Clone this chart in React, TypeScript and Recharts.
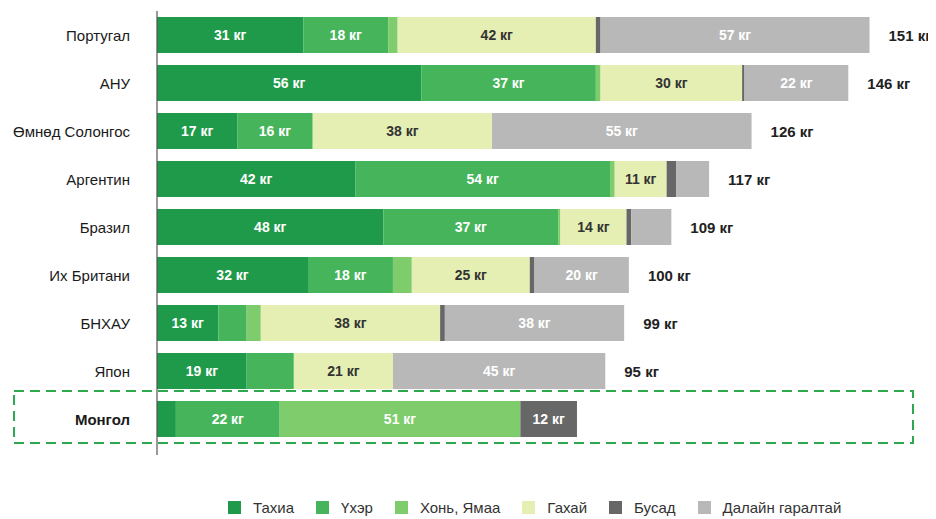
import React from 'react';
import { BarChart, Bar, XAxis, YAxis, LabelList } from 'recharts';

const countries = ['Португал', 'АНУ', 'Өмнөд Солонгос', 'Аргентин', 'Бразил', 'Их Британи', 'БНХАУ', 'Япон', 'Монгол'];
const chicken = [31, 56, 17, 42, 48, 32, 13, 19, 4];
const beef = [18, 37, 16, 54, 37, 18, 6, 10, 22];
const mutton = [2, 1, 0, 1, 0.5, 4, 3, 0, 51];
const pork = [42, 30, 38, 11, 14, 25, 38, 21, 0];
const other = [1, 0.5, 0, 2, 1, 1, 1, 0, 12];
const seafood = [57, 22, 55, 7, 8.5, 20, 38, 45, 0];
const totals = [151, 146, 126, 117, 109, 100, 99, 95, 89];

const series = [
  { key: 'chicken', name: 'Тахиа', color: '#1f9a4a', text: '#ffffff' },
  { key: 'beef', name: 'Үхэр', color: '#46b45a', text: '#ffffff' },
  { key: 'mutton', name: 'Хонь, Ямаа', color: '#7fcc6c', text: '#ffffff' },
  { key: 'pork', name: 'Гахай', color: '#e6efb3', text: '#333333' },
  { key: 'other', name: 'Бусад', color: '#676767', text: '#ffffff' },
  { key: 'seafood', name: 'Далайн гаралтай', color: '#b8b8b8', text: '#ffffff' },
];

const data = countries.map((country, i) => ({
  country,
  chicken: chicken[i],
  beef: beef[i],
  mutton: mutton[i],
  pork: pork[i],
  other: other[i],
  seafood: seafood[i],
  total: totals[i],
}));

const FONT = '"Liberation Sans", Arial, sans-serif';

const segmentLabel = (fill: string) => (props: any) => {
  const { x, y, width, height, value } = props;
  if (value == null || value < 11) return null;
  return (
    <text
      x={x + width / 2}
      y={y + height / 2}
      fill={fill}
      textAnchor="middle"
      dominantBaseline="central"
      fontSize={14}
      fontWeight="bold"
      fontFamily={FONT}
    >
      {value} кг
    </text>
  );
};

const totalLabel = (props: any) => {
  const { x, y, width, height, value } = props;
  return (
    <text
      x={x + width + 19}
      y={y + height / 2}
      fill="#222"
      textAnchor="start"
      dominantBaseline="central"
      fontSize={15}
      fontWeight="bold"
      fontFamily={FONT}
    >
      {value} кг
    </text>
  );
};

const CountryTick = (props: any) => {
  const { x, y, payload } = props;
  const bold = payload.value === 'Монгол';
  return (
    <text
      x={x - 27}
      y={y}
      textAnchor="end"
      dominantBaseline="central"
      fontSize={15}
      fill="#1a1a1a"
      fontWeight={bold ? 'bold' : 'normal'}
      fontFamily={FONT}
    >
      {payload.value}
    </text>
  );
};

export default function App() {
  return (
    <div style={{ position: 'relative', width: 928, height: 511, fontFamily: FONT }}>
      <BarChart
        width={928}
        height={511}
        data={data}
        layout="vertical"
        margin={{ top: 3, right: 24, left: 0, bottom: 76 }}
      >
        <XAxis type="number" domain={[0, 160]} hide />
        <YAxis
          type="category"
          dataKey="country"
          width={149}
          tickLine={false}
          tickSize={0}
          tickMargin={0}
          axisLine={{ stroke: '#555', strokeWidth: 1.2 }}
          tick={<CountryTick />}
          interval={0}
        />
        {series.map((s, i) => (
          <Bar
            key={s.key}
            dataKey={s.key}
            name={s.name}
            stackId="a"
            fill={s.color}
            barSize={36}
            isAnimationActive={false}
          >
            <LabelList dataKey={s.key} content={segmentLabel(s.text)} />
            {i === series.length - 1 && <LabelList dataKey="total" content={totalLabel} />}
          </Bar>
        ))}
      </BarChart>
      <svg
        width={928}
        height={511}
        style={{ position: 'absolute', left: 0, top: 0, pointerEvents: 'none' }}
      >
        <rect x={6} y={383} width={899} height={52} fill="none" stroke="#2ea84f" strokeWidth={2} strokeDasharray="10 6" />
        <line x1={149} y1={435} x2={149} y2={447} stroke="#555" strokeWidth={1.2} />
      </svg>
      <div
        style={{
          position: 'absolute',
          left: 220,
          top: 491,
          display: 'flex',
          alignItems: 'center',
          fontSize: 15,
          color: '#333',
        }}
      >
        {series.map((s) => (
          <div key={s.key} style={{ display: 'flex', alignItems: 'center', marginRight: 22 }}>
            <span style={{ display: 'inline-block', width: 13, height: 13, background: s.color, marginRight: 12 }} />
            <span>{s.name}</span>
          </div>
        ))}
      </div>
    </div>
  );
}
